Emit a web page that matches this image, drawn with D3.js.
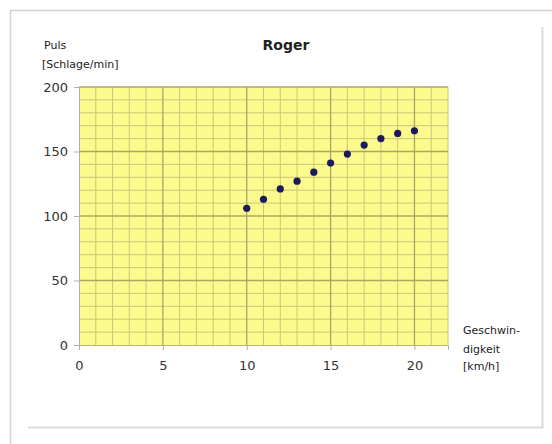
<!DOCTYPE html>
<html>
<head>
<meta charset="utf-8">
<script src="https://cdn.jsdelivr.net/npm/d3@7"></script>
<style>
  body { margin: 0; background: #fff; }
  svg { font-family: "DejaVu Sans", Verdana, sans-serif; }
</style>
</head>
<body>
<svg class="chart"></svg>
<script>
// speed in km/h and pulse
let speed = [10, 11, 12, 13, 14, 15, 16, 17, 18, 19, 20]
let pulse = [106, 113, 121, 127, 134, 141, 148, 155, 160, 164, 166]
let xTicks = [0, 5, 10, 15, 20]
let yTicks = [0, 50, 100, 150, 200]

let width = 552, height = 444
let plot = {left: 79, top: 87, right: 448, bottom: 345}

let chart = d3.select('.chart')
    .attr('width', width)
    .attr('height', height)

// frame
chart.append('path')
    .attr('d', 'M10.5,444 V10.5 H552')
    .attr('fill', 'none').attr('stroke', '#d4d4d4').attr('stroke-width', 1.5)
chart.append('path')
    .attr('d', 'M28,427.5 H542.5 V27')
    .attr('fill', 'none').attr('stroke', '#dcdcdc').attr('stroke-width', 2)

let x = d3.scaleLinear().domain([0, 22]).range([plot.left, plot.right])
let y = d3.scaleLinear().domain([0, 200]).range([plot.bottom, plot.top])

chart.append('rect')
    .attr('x', plot.left).attr('y', plot.top)
    .attr('width', plot.right - plot.left)
    .attr('height', plot.bottom - plot.top)
    .attr('fill', '#fcfa8c')

// minor grid
chart.append('g').selectAll('line')
    .data(d3.range(1, 23).filter((d) => d % 5 != 0))
  .enter().append('line')
    .attr('x1', (d) => x(d)).attr('x2', (d) => x(d))
    .attr('y1', plot.top).attr('y2', plot.bottom)
    .attr('stroke', '#c9c77a').attr('stroke-width', 1)
chart.append('g').selectAll('line')
    .data(d3.range(10, 200, 10).filter((d) => d % 50 != 0))
  .enter().append('line')
    .attr('x1', plot.left).attr('x2', plot.right)
    .attr('y1', (d) => y(d)).attr('y2', (d) => y(d))
    .attr('stroke', '#c9c77a').attr('stroke-width', 1)

// major grid
chart.append('g').selectAll('line')
    .data([5, 10, 15, 20])
  .enter().append('line')
    .attr('x1', (d) => x(d)).attr('x2', (d) => x(d))
    .attr('y1', plot.top).attr('y2', plot.bottom)
    .attr('stroke', '#a9a766').attr('stroke-width', 1.3)
chart.append('g').selectAll('line')
    .data([50, 100, 150, 200])
  .enter().append('line')
    .attr('x1', plot.left).attr('x2', plot.right)
    .attr('y1', (d) => y(d)).attr('y2', (d) => y(d))
    .attr('stroke', '#a9a766').attr('stroke-width', 1.3)

// axes
let xAxis = chart.append('g')
    .attr('transform', 'translate(0,' + plot.bottom + ')')
    .call(d3.axisBottom(x).tickValues(xTicks).tickSize(5).tickPadding(11))
let yAxis = chart.append('g')
    .attr('transform', 'translate(' + plot.left + ',0)')
    .call(d3.axisLeft(y).tickValues(yTicks).tickSize(5).tickPadding(6))
chart.selectAll('.domain').attr('stroke', '#b0b0b0')
chart.selectAll('.tick line').attr('stroke', '#b0b0b0')
chart.selectAll('.tick text')
    .attr('fill', '#333').style('font-size', '13px')
    .style('font-family', '"DejaVu Sans", Verdana, sans-serif')

// points
chart.append('g').selectAll('circle')
    .data(speed)
  .enter().append('circle')
    .attr('cx', (d) => x(d))
    .attr('cy', (d, i) => y(pulse[i]))
    .attr('r', 3.6)
    .attr('fill', '#1c1a5c')

// titles
chart.append('text')
    .attr('x', 286).attr('y', 50)
    .attr('text-anchor', 'middle')
    .style('font-size', '14px').style('font-weight', 'bold')
    .attr('fill', '#222')
    .text('Roger')

let yLabel = chart.append('text')
    .style('font-size', '11px').attr('fill', '#222')
yLabel.append('tspan').attr('x', 44).attr('y', 49).text('Puls')
yLabel.append('tspan').attr('x', 42).attr('y', 68).text('[Schlage/min]')

let xLabel = chart.append('text')
    .style('font-size', '11px').attr('fill', '#222')
xLabel.append('tspan').attr('x', 463).attr('y', 334).text('Geschwin-')
xLabel.append('tspan').attr('x', 463).attr('y', 353).text('digkeit')
xLabel.append('tspan').attr('x', 463).attr('y', 370).text('[km/h]')
</script>
</body>
</html>
